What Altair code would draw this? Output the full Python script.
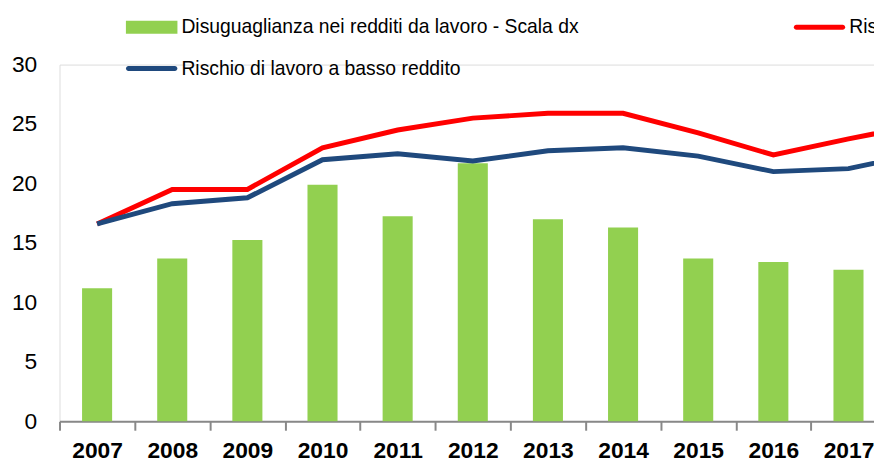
import altair as alt
import pandas as pd

# ---- data ----
years = ["2007", "2008", "2009", "2010", "2011", "2012", "2013",
         "2014", "2015", "2016", "2017", "2018"]
bar_years = years[:11]
disuguaglianza = [11.2, 13.7, 15.25, 19.9, 17.25, 21.7, 17.0, 16.3, 13.7, 13.4, 12.75]
rischio_rosso = [16.6, 19.5, 19.5, 23.0, 24.5, 25.5, 25.9, 25.9, 24.25, 22.4, 23.75, 25.0]
rischio_blu = [16.6, 18.3, 18.8, 22.0, 22.5, 21.9, 22.75, 23.0, 22.3, 21.0, 21.25, 22.6]
y_ticks = [0, 5, 10, 15, 20, 25, 30]

LAB_BAR = "Disuguaglianza nei redditi da lavoro - Scala dx"
LAB_RED = "Rischio di povertà lavorativa"
LAB_BLUE = "Rischio di lavoro a basso reddito"
series = [LAB_BAR, LAB_RED, LAB_BLUE]
colors = ["#92D050", "#FF0000", "#1F497D"]

bars_df = pd.DataFrame({"anno": bar_years, "valore": disuguaglianza, "serie": LAB_BAR})
red_df = pd.DataFrame({"anno": years, "valore": rischio_rosso, "serie": LAB_RED})
blue_df = pd.DataFrame({"anno": years, "valore": rischio_blu, "serie": LAB_BLUE})

FONT = "Liberation Sans, Arial, sans-serif"

x_enc = alt.X(
    "anno:O",
    sort=years,
    scale=alt.Scale(domain=years, range=[0, 910], paddingInner=0, paddingOuter=0),
    axis=alt.Axis(
        title=None, labelAngle=0, labelFont=FONT, labelFontWeight="bold",
        labelFontSize=23, labelColor="black", labelPadding=10,
        domainColor="#888888", domainWidth=2,
        tickColor="#888888", tickWidth=2, tickSize=9, tickBand="extent",
        grid=False,
    ),
)
y_enc = alt.Y(
    "valore:Q",
    scale=alt.Scale(domain=[0, 30], nice=False),
    axis=alt.Axis(
        title=None, values=y_ticks, grid=False, ticks=False, tickSize=0,
        domain=False, labelFont=FONT, labelFontSize=23, labelColor="black",
        labelPadding=23,
    ),
)

rect_path = "M-1,-0.25L1,-0.25L1,0.25L-1,0.25Z"
line_path = ("M-0.9,-0.096L0.9,-0.096A0.096,0.096 0 0 1 0.9,0.096"
             "L-0.9,0.096A0.096,0.096 0 0 1 -0.9,-0.096Z")
shape_expr = f"datum.value === '{LAB_BAR}' ? '{rect_path}' : '{line_path}'"

legend = alt.Legend(
    title=None, orient="none", legendX=67, legendY=-64,
    direction="horizontal", columns=2, columnPadding=216, rowPadding=6,
    labelFont=FONT, labelFontSize=19.5, labelColor="black", labelLimit=900,
    labelOffset=4, symbolSize=2704, symbolType=alt.ExprRef(expr=shape_expr),
    symbolStrokeWidth=0, symbolOpacity=1,
)

bars = alt.Chart(bars_df).mark_bar(width=alt.RelativeBandSize(0.4)).encode(
    x=x_enc, y=y_enc,
    color=alt.Color("serie:N", scale=alt.Scale(domain=series, range=colors), legend=legend),
)
red = alt.Chart(red_df).mark_line(strokeWidth=5, color="#FF0000").encode(x=x_enc, y=y_enc)
blue = alt.Chart(blue_df).mark_line(strokeWidth=5, color="#1F497D").encode(x=x_enc, y=y_enc)

chart = alt.layer(bars, red, blue).properties(
    width=822, height=360,
    autosize=alt.AutoSizeParams(type="none"),
    padding={"left": 52, "top": 55, "right": 0, "bottom": 43},
).configure_view(stroke=None).configure(font=FONT)

chart.save("out.html", embed_options={"renderer": "svg", "actions": False})
